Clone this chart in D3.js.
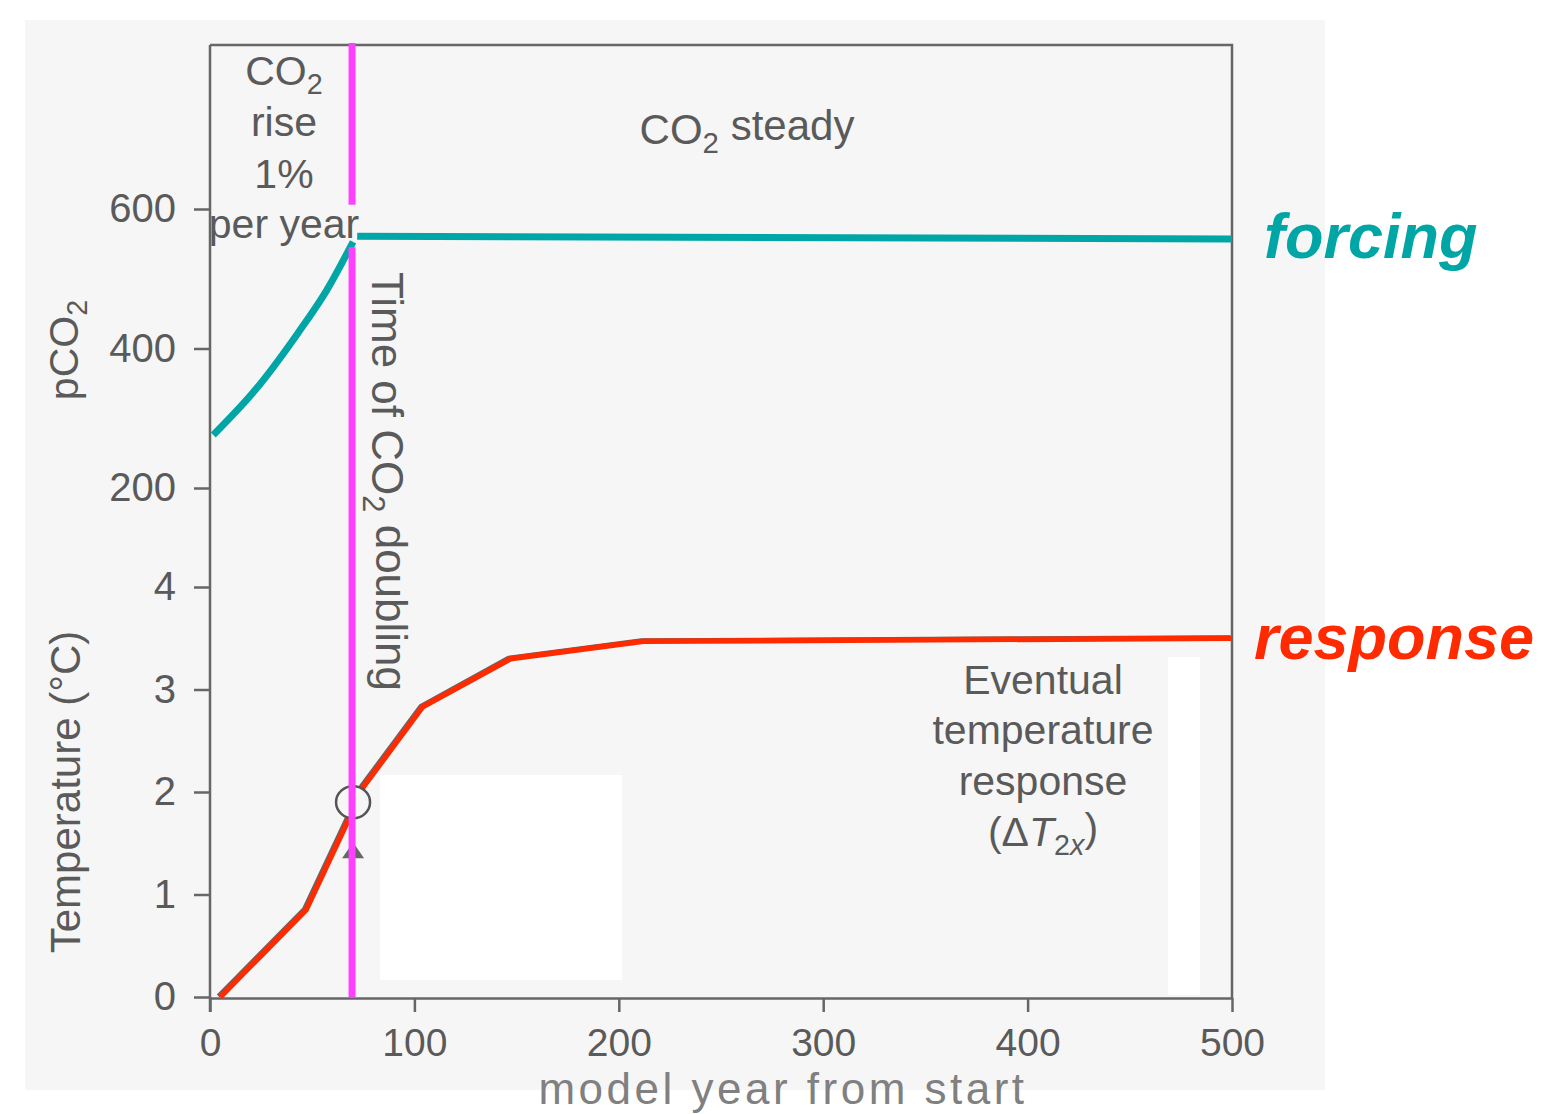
<!DOCTYPE html>
<html>
<head>
<meta charset="utf-8">
<script src="https://cdn.jsdelivr.net/npm/d3@7"></script>
<style>
  html, body { margin: 0; padding: 0; background: #ffffff; }
  svg { display: block; font-family: "Liberation Sans", Arial, Helvetica, sans-serif; }
</style>
</head>
<body>
<svg id="chart" width="1547" height="1114"></svg>
<script>
// CO2 forcing (1% per year rise, then held steady) and the temperature response
const riseYears     = [1.6, 22, 43, 57, 70];
const riseCO2       = [276, 340, 422, 483, 553];
const steadyYears   = [72, 500];
const steadyCO2     = [561, 557];
const responseYears = [5, 47, 67, 75, 104, 147, 212, 500];
const responseTemp  = [0, 0.85, 1.70, 2.05, 2.83, 3.30, 3.47, 3.50];
const doublingYear  = 69.5;
const doublingTemp  = 1.9;
const xTicks        = [0, 100, 200, 300, 400, 500];
const co2Ticks      = [200, 400, 600];
const tempTicks     = [0, 1, 2, 3, 4];

const svg = d3.select("#chart");
const GRAY = "#5a5a5a";
const TEAL = "#00a6a6";
const RED = "#ff2a00";
const MAGENTA = "#ff40ff";

const plotLeft = 210, plotRight = 1232, plotTop = 45, plotBottom = 998;

const x = d3.scaleLinear().domain([0, 500]).range([plotLeft, plotRight]);
const yCO2 = d3.scaleLinear().domain([200, 600]).range([488, 209]);
const yT = d3.scaleLinear().domain([0, 4]).range([997, 587]);

// paper tone and cleared panels
svg.append("rect").attr("x", 25).attr("y", 20).attr("width", 1300).attr("height", 1070)
  .attr("fill", "#f6f6f6");
svg.append("rect").attr("x", 380).attr("y", 775).attr("width", 242).attr("height", 205)
  .attr("fill", "#ffffff");
svg.append("rect").attr("x", 1168).attr("y", 657).attr("width", 32).attr("height", 338)
  .attr("fill", "#ffffff");

// frame
svg.append("path")
  .attr("d", `M${plotLeft},${plotTop}H${plotRight}V${plotBottom}`)
  .attr("fill", "none").attr("stroke", "#666").attr("stroke-width", 2.5);

function styleAxis(g, size) {
  g.select(".domain").attr("stroke", "#666").attr("stroke-width", 2.5);
  g.selectAll(".tick line").attr("stroke", "#666").attr("stroke-width", 2.5);
  g.selectAll(".tick text").attr("fill", GRAY).attr("font-size", size || 40)
    .attr("font-family", "'Liberation Sans', Arial, sans-serif");
}

const fmt = d3.format("d");

// x axis
svg.append("g").attr("transform", `translate(0,${plotBottom})`)
  .call(d3.axisBottom(x).tickValues(xTicks).tickFormat(fmt).tickSize(14).tickPadding(16).tickSizeOuter(0))
  .call(g => styleAxis(g, 39));

// left axis line spanning both panels
svg.append("line").attr("x1", plotLeft).attr("x2", plotLeft).attr("y1", plotTop).attr("y2", plotBottom + 14)
  .attr("stroke", "#666").attr("stroke-width", 2.5);

// pCO2 ticks
const gCO2 = svg.append("g").attr("transform", `translate(${plotLeft},0)`)
  .call(d3.axisLeft(yCO2).tickValues(co2Ticks).tickFormat(fmt).tickSize(16).tickPadding(18).tickSizeOuter(0))
  .call(g => styleAxis(g, 40));
gCO2.select(".domain").remove();

// temperature ticks
const gT = svg.append("g").attr("transform", `translate(${plotLeft},0)`)
  .call(d3.axisLeft(yT).tickValues(tempTicks).tickFormat(fmt).tickSize(16).tickPadding(18).tickSizeOuter(0))
  .call(g => styleAxis(g, 40));
gT.select(".domain").remove();

// forcing curve
const co2Line = d3.line().x(d => x(d[0])).y(d => yCO2(d[1])).curve(d3.curveMonotoneX);
svg.append("path")
  .datum(d3.zip(riseYears, riseCO2))
  .attr("d", co2Line)
  .attr("fill", "none").attr("stroke", TEAL).attr("stroke-width", 7);
svg.append("path")
  .datum(d3.zip(steadyYears, steadyCO2))
  .attr("d", d3.line().x(d => x(d[0])).y(d => yCO2(d[1])))
  .attr("fill", "none").attr("stroke", TEAL).attr("stroke-width", 7);

// response curve (dark trace beneath the coloured line)
const tLine = d3.line().x(d => x(d[0])).y(d => yT(d[1]));
const responseData = d3.zip(responseYears, responseTemp);
svg.append("path")
  .datum(responseData)
  .attr("d", tLine)
  .attr("transform", "translate(-2,-1)")
  .attr("fill", "none").attr("stroke", "#666").attr("stroke-width", 4);
svg.append("path")
  .datum(responseData)
  .attr("d", tLine)
  .attr("fill", "none").attr("stroke", RED).attr("stroke-width", 5.5);

// marker at the time of doubling
const cx = x(doublingYear), cy = yT(doublingTemp);
svg.append("ellipse").attr("cx", cx + 1).attr("cy", cy).attr("rx", 17).attr("ry", 16)
  .attr("fill", "#f6f6f6").attr("stroke", "#555").attr("stroke-width", 2.5);
svg.append("path")
  .attr("d", `M${cx + 1},${cy + 40}L${cx - 10},${cy + 56}L${cx + 12},${cy + 56}Z`)
  .attr("fill", "#666");

// doubling time marker line, broken around the label
const xd = x(doublingYear);
svg.append("line").attr("x1", xd).attr("x2", xd).attr("y1", plotTop - 2).attr("y2", yCO2(606))
  .attr("stroke", MAGENTA).attr("stroke-width", 7);
svg.append("line").attr("x1", xd).attr("x2", xd).attr("y1", yCO2(545)).attr("y2", yT(0))
  .attr("stroke", MAGENTA).attr("stroke-width", 7);

// text helpers
function subText(parent, parts, attrs) {
  const t = parent.append("text");
  Object.entries(attrs).forEach(([k, v]) => t.attr(k, v));
  parts.forEach(p => {
    const s = t.append("tspan").text(p.t);
    if (p.sub) s.attr("font-size", "0.7em").attr("dy", "0.3em");
    if (p.up) s.attr("dy", "-0.3em");
    if (p.italic) s.attr("font-style", "italic");
  });
  return t;
}

const LABEL = 41;

// regime labels
subText(svg, [{t: "CO"}, {t: "2", sub: true}],
  {x: 284, y: 85, "text-anchor": "middle", "font-size": LABEL, fill: GRAY});
svg.append("text").attr("x", 284).attr("y", 136).attr("text-anchor", "middle")
  .attr("font-size", LABEL).attr("fill", GRAY).text("rise");
svg.append("text").attr("x", 284).attr("y", 188).attr("text-anchor", "middle")
  .attr("font-size", LABEL).attr("fill", GRAY).text("1%");
svg.append("text").attr("x", 284).attr("y", 238).attr("text-anchor", "middle")
  .attr("font-size", LABEL).attr("fill", GRAY).text("per year");

subText(svg, [{t: "CO"}, {t: "2", sub: true}, {t: " steady", up: true}],
  {x: 747, y: 144, "text-anchor": "middle", "font-size": 42, fill: GRAY});

subText(svg, [{t: "Time of CO"}, {t: "2", sub: true}, {t: " doubling", up: true}],
  {transform: "translate(372,272) rotate(90)", "text-anchor": "start", "font-size": 44, fill: GRAY});

// eventual response note
const ev = [["Eventual", 694], ["temperature", 744], ["response", 795]];
ev.forEach(([s, yy]) => svg.append("text").attr("x", 1043).attr("y", yy)
  .attr("text-anchor", "middle").attr("font-size", LABEL).attr("fill", GRAY).text(s));
subText(svg, [{t: "(\u0394"}, {t: "T", italic: true}, {t: "2", sub: true}, {t: "x", italic: true}, {t: ")", up: true}],
  {x: 1043, y: 846, "text-anchor": "middle", "font-size": LABEL, fill: GRAY})
  .selectAll("tspan").filter((d, i) => i === 3).attr("font-size", "0.7em");

// axis titles
subText(svg, [{t: "pCO"}, {t: "2", sub: true}],
  {transform: "translate(78,350) rotate(-90)", "text-anchor": "middle", "font-size": LABEL, fill: GRAY});
svg.append("text").attr("transform", "translate(80,792) rotate(-90)")
  .attr("text-anchor", "middle").attr("font-size", 42).attr("fill", GRAY).text("Temperature (\u00B0C)");
svg.append("text").attr("x", 783).attr("y", 1104).attr("text-anchor", "middle")
  .attr("font-size", 44).attr("letter-spacing", 3.5).attr("fill", "#808080").text("model year from start");

// series labels
svg.append("text").attr("x", 1264).attr("y", 258).attr("font-size", 63)
  .attr("font-weight", "bold").attr("font-style", "italic").attr("fill", TEAL).text("forcing");
svg.append("text").attr("x", 1254).attr("y", 659).attr("font-size", 63)
  .attr("font-weight", "bold").attr("font-style", "italic").attr("fill", RED).text("response");
</script>
</body>
</html>
